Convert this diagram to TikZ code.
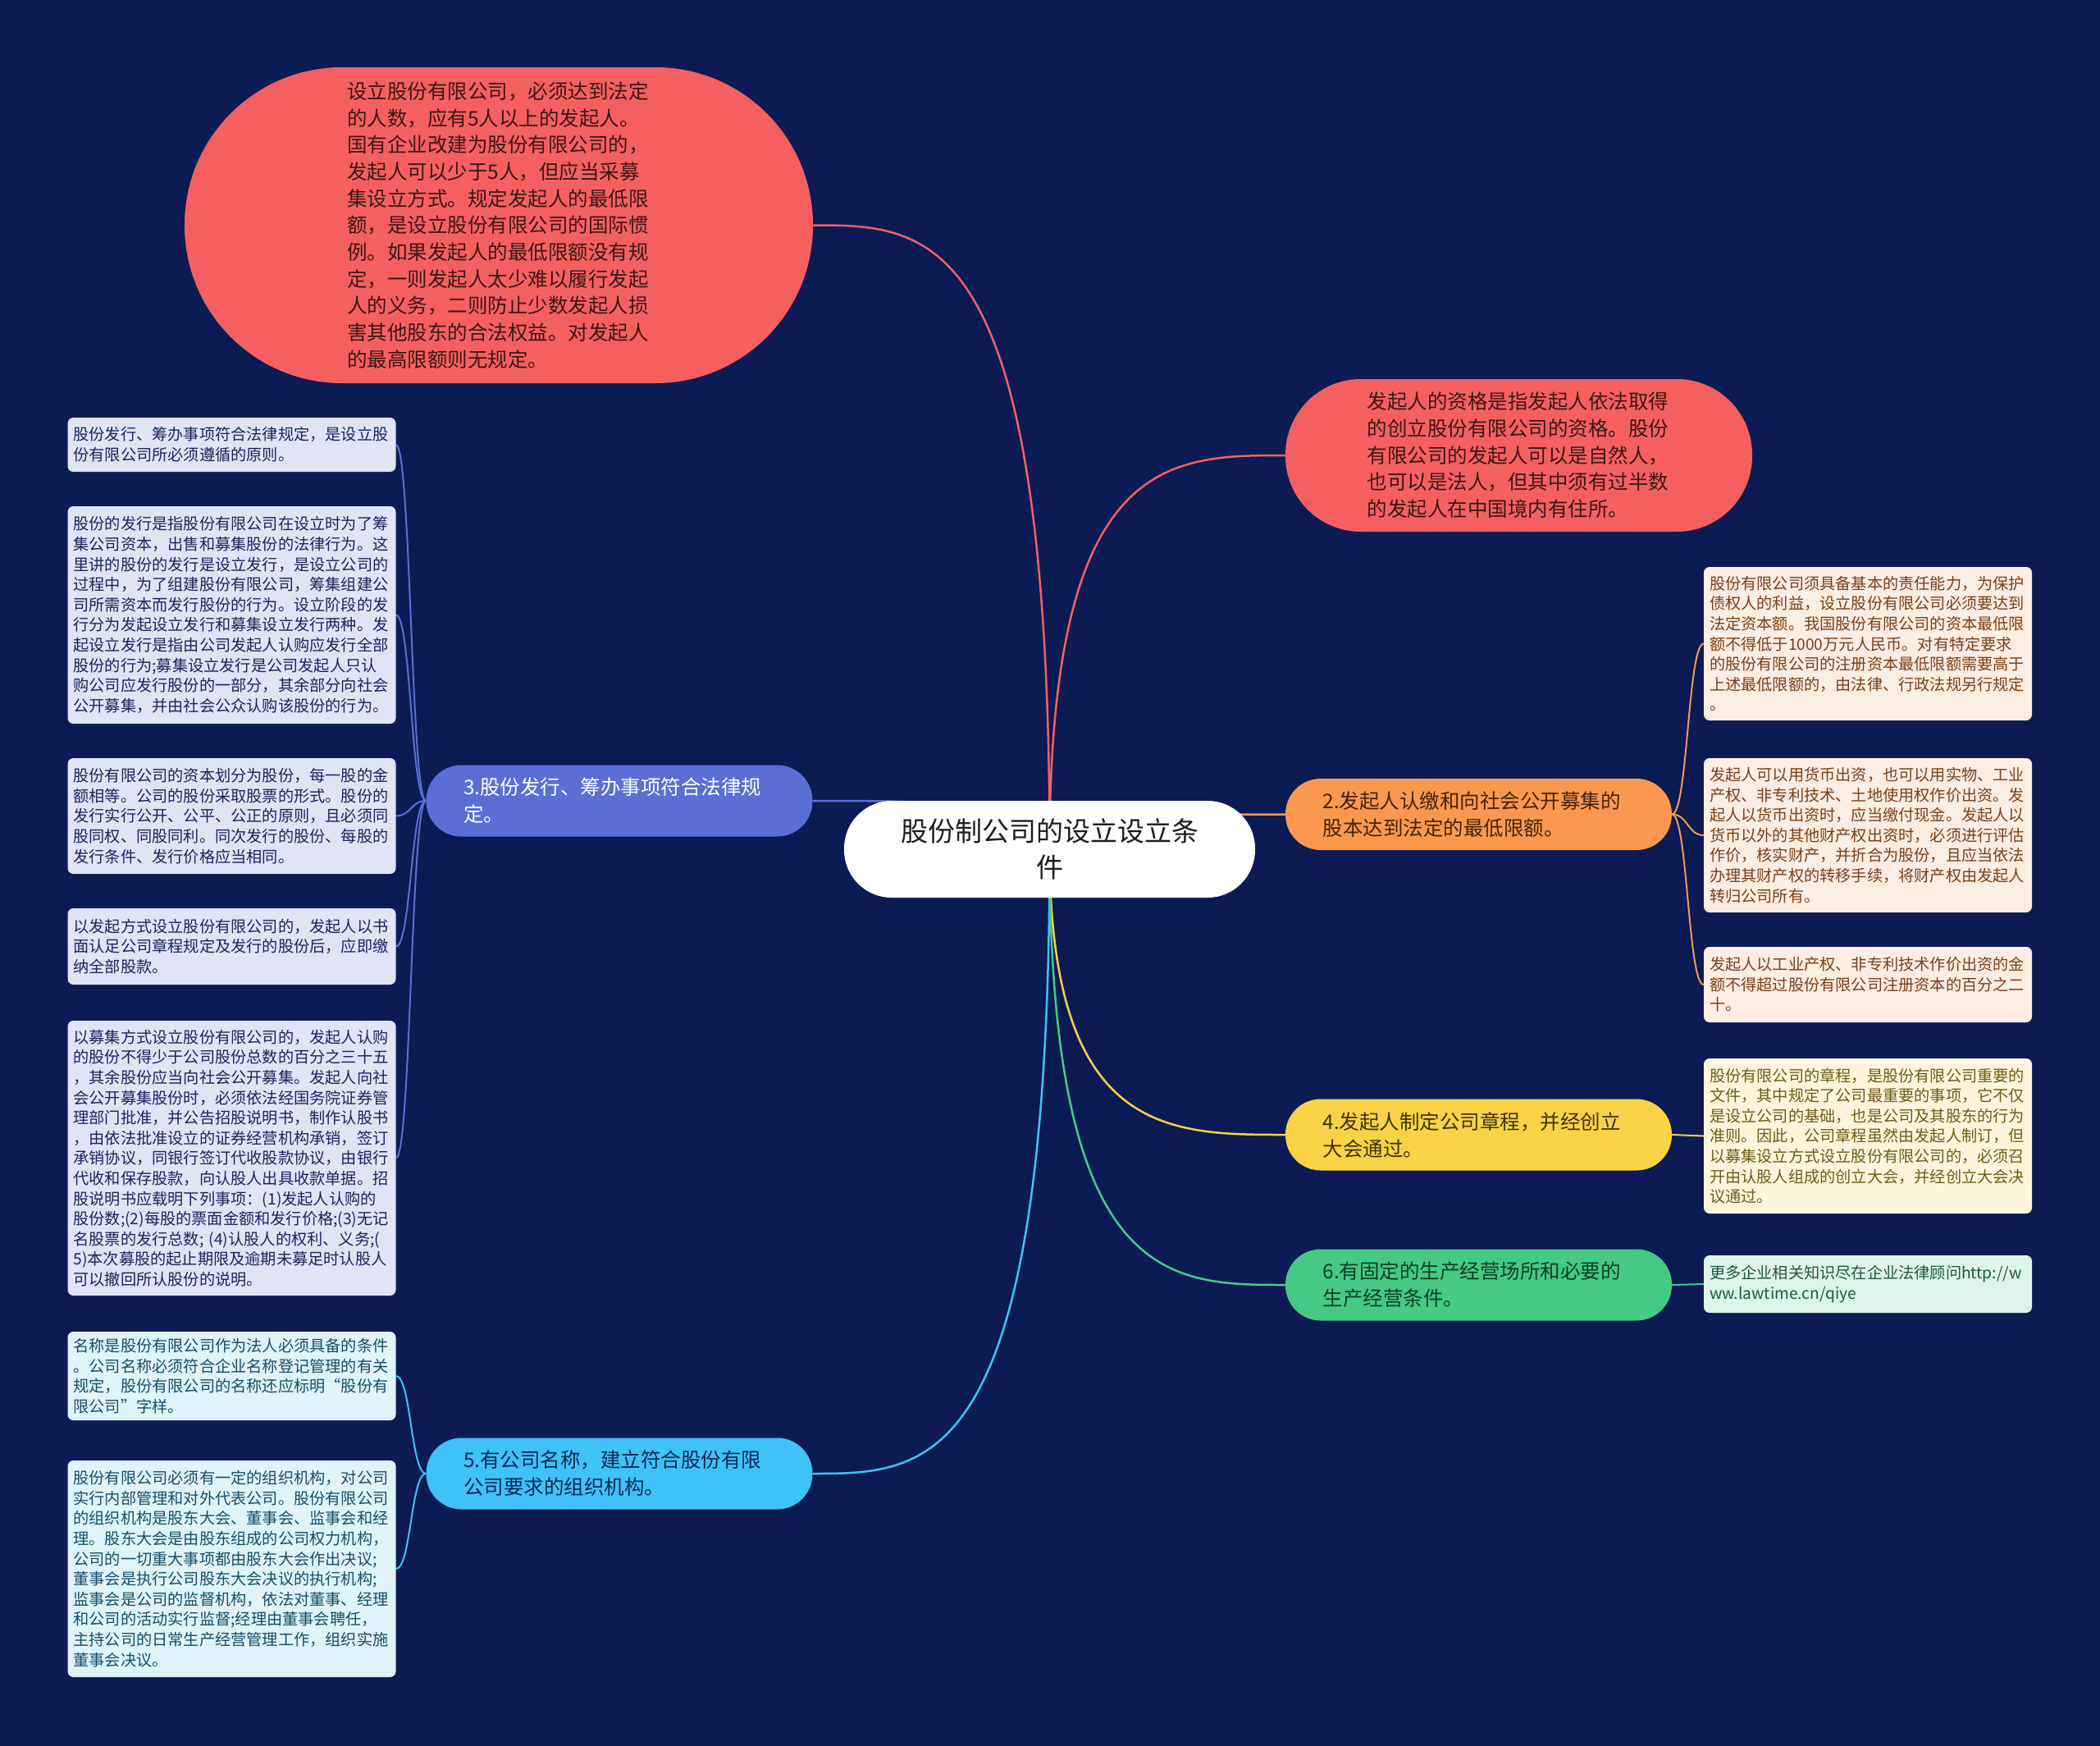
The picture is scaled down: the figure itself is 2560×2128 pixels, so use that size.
\documentclass[tikz,border=0pt]{standalone}
\usepackage{fontspec}
\newfontfamily\cjk{Noto Sans CJK SC}
\usetikzlibrary{calc}
\pgfdeclarelayer{bgl}\pgfdeclarelayer{lines}\pgfsetlayers{bgl,lines,main}
\definecolor{bgc}{RGB}{12,27,84}
\definecolor{cred}{RGB}{244,96,96}
\definecolor{corange}{RGB}{249,152,78}
\definecolor{cyellow}{RGB}{250,210,70}
\definecolor{cgreen}{RGB}{70,201,132}
\definecolor{cblue}{RGB}{91,110,214}
\definecolor{clblue}{RGB}{62,194,247}
\definecolor{tred}{RGB}{60,22,22}
\definecolor{torange}{RGB}{70,35,10}
\definecolor{tyellow}{RGB}{60,50,10}
\definecolor{tgreen}{RGB}{15,60,40}
\definecolor{tlblue}{RGB}{10,40,80}
\definecolor{fpeach}{RGB}{253,237,227}\definecolor{tpeach}{RGB}{125,62,20}
\definecolor{fyel}{RGB}{253,246,221}\definecolor{tyel}{RGB}{110,92,20}
\definecolor{fgrn}{RGB}{222,244,234}\definecolor{tgrn}{RGB}{30,90,62}
\definecolor{flav}{RGB}{224,228,246}\definecolor{tlav}{RGB}{28,36,96}
\definecolor{fcyan}{RGB}{224,243,251}\definecolor{tcyan}{RGB}{22,78,108}
\definecolor{troot}{RGB}{30,30,30}
\newcommand{\rootlink}[2]{\draw[mainlink,#1] (root.center) .. controls (root.center |- #2) and ($(root.center |- #2)!0.5!(#2)$) .. (#2);}
\newcommand{\leaflink}[3]{\draw[leaflinkst,#1] (#2) .. controls ($(#2)!0.5!(#2 -| #3)$) and ($(#3)!0.5!(#3 -| #2)$) .. (#3);}
\tikzset{
  mainlink/.style={line width=2.5pt},
  leaflinkst/.style={line width=2pt},
  leaf/.style={inner sep=0pt, inner xsep=7pt, text width=386pt, align=left, rounded corners=7pt,
    font={\cjk\fontsize{19.2}{24.6}\selectfont}},
  branch/.style={inner sep=0pt, text width=380pt, align=left, minimum width=471pt, minimum height=87pt,
    rounded corners=43pt, font={\cjk\fontsize{24.5}{33}\selectfont}},
  bigred/.style={inner sep=0pt, text width=370pt, align=left, fill=cred, text=tred,
    font={\cjk\fontsize{24.5}{32.7}\selectfont}},
  rootst/.style={inner sep=0pt, text width=370pt, align=center, fill=white, text=troot,
    minimum width=501pt, minimum height=118pt, rounded corners=58pt,
    font={\cjk\fontsize{33}{44}\selectfont}},
}
\begin{document}
\begin{tikzpicture}[x=1pt,y=-1pt]
\useasboundingbox (0,0) rectangle (2560,2128);
\begin{pgfonlayer}{bgl}
\fill[bgc] (0,0) rectangle (2560,2128);
\end{pgfonlayer}

\node[rootst] (root) at (1279.5,1035) {股份制公司的设立设立条\\件};

\node[bigred, minimum width=766pt, minimum height=385pt, rounded corners=192pt] (R1) at (608,274.5) {设立股份有限公司，必须达到法定\\
的人数，应有5人以上的发起人。\\
国有企业改建为股份有限公司的，\\
发起人可以少于5人，但应当采募\\
集设立方式。规定发起人的最低限\\
额，是设立股份有限公司的国际惯\\
例。如果发起人的最低限额没有规\\
定，一则发起人太少难以履行发起\\
人的义务，二则防止少数发起人损\\
害其他股东的合法权益。对发起人\\
的最高限额则无规定。};

\node[bigred, minimum width=569pt, minimum height=186pt, rounded corners=92pt] (R2) at (1851.5,555) {发起人的资格是指发起人依法取得\\
的创立股份有限公司的资格。股份\\
有限公司的发起人可以是自然人，\\
也可以是法人，但其中须有过半数\\
的发起人在中国境内有住所。};

\node[branch, fill=corange, text=torange] (B2) at (1802.5,992.5) {2.发起人认缴和向社会公开募集的\\股本达到法定的最低限额。};
\node[branch, fill=cblue, text=white] (B3) at (755,976) {3.股份发行、筹办事项符合法律规\\定。};
\node[branch, fill=cyellow, text=tyellow] (B4) at (1802.5,1383) {4.发起人制定公司章程，并经创立\\大会通过。};
\node[branch, fill=clblue, text=tlblue] (B5) at (755,1796) {5.有公司名称，建立符合股份有限\\公司要求的组织机构。};
\node[branch, fill=cgreen, text=tgreen] (B6) at (1802.5,1566) {6.有固定的生产经营场所和必要的\\生产经营条件。};

% leaves of 2
\node[leaf, fill=fpeach, text=tpeach, minimum height=187pt] (L2a) at (2277,784.5) {股份有限公司须具备基本的责任能力，为保护\\
债权人的利益，设立股份有限公司必须要达到\\
法定资本额。我国股份有限公司的资本最低限\\
额不得低于1000万元人民币。对有特定要求\\
的股份有限公司的注册资本最低限额需要高于\\
上述最低限额的，由法律、行政法规另行规定\\
。};
\node[leaf, fill=fpeach, text=tpeach, minimum height=188pt] (L2b) at (2277,1018) {发起人可以用货币出资，也可以用实物、工业\\
产权、非专利技术、土地使用权作价出资。发\\
起人以货币出资时，应当缴付现金。发起人以\\
货币以外的其他财产权出资时，必须进行评估\\
作价，核实财产，并折合为股份，且应当依法\\
办理其财产权的转移手续，将财产权由发起人\\
转归公司所有。};
\node[leaf, fill=fpeach, text=tpeach, minimum height=92pt] (L2c) at (2277,1200) {发起人以工业产权、非专利技术作价出资的金\\
额不得超过股份有限公司注册资本的百分之二\\
十。};

% leaf of 4
\node[leaf, fill=fyel, text=tyel, minimum height=189pt] (L4) at (2277,1384.5) {股份有限公司的章程，是股份有限公司重要的\\
文件，其中规定了公司最重要的事项，它不仅\\
是设立公司的基础，也是公司及其股东的行为\\
准则。因此，公司章程虽然由发起人制订，但\\
以募集设立方式设立股份有限公司的，必须召\\
开由认股人组成的创立大会，并经创立大会决\\
议通过。};

% leaf of 6
\node[leaf, fill=fgrn, text=tgrn, minimum height=70pt] (L6) at (2277,1565) {更多企业相关知识尽在企业法律顾问http://w\\
ww.lawtime.cn/qiye};

% leaves of 3
\node[leaf, fill=flav, text=tlav, minimum height=66pt] (L3a) at (282.5,542) {股份发行、筹办事项符合法律规定，是设立股\\
份有限公司所必须遵循的原则。};
\node[leaf, fill=flav, text=tlav, minimum height=265pt] (L3b) at (282.5,749.5) {股份的发行是指股份有限公司在设立时为了筹\\
集公司资本，出售和募集股份的法律行为。这\\
里讲的股份的发行是设立发行，是设立公司的\\
过程中，为了组建股份有限公司，筹集组建公\\
司所需资本而发行股份的行为。设立阶段的发\\
行分为发起设立发行和募集设立发行两种。发\\
起设立发行是指由公司发起人认购应发行全部\\
股份的行为;募集设立发行是公司发起人只认\\
购公司应发行股份的一部分，其余部分向社会\\
公开募集，并由社会公众认购该股份的行为。};
\node[leaf, fill=flav, text=tlav, minimum height=141pt] (L3c) at (282.5,994.5) {股份有限公司的资本划分为股份，每一股的金\\
额相等。公司的股份采取股票的形式。股份的\\
发行实行公开、公平、公正的原则，且必须同\\
股同权、同股同利。同次发行的股份、每股的\\
发行条件、发行价格应当相同。};
\node[leaf, fill=flav, text=tlav, minimum height=93pt] (L3d) at (282.5,1153.5) {以发起方式设立股份有限公司的，发起人以书\\
面认足公司章程规定及发行的股份后，应即缴\\
纳全部股款。};
\node[leaf, fill=flav, text=tlav, minimum height=335pt] (L3e) at (282.5,1411.5) {以募集方式设立股份有限公司的，发起人认购\\
的股份不得少于公司股份总数的百分之三十五\\
，其余股份应当向社会公开募集。发起人向社\\
会公开募集股份时，必须依法经国务院证券管\\
理部门批准，并公告招股说明书，制作认股书\\
，由依法批准设立的证券经营机构承销，签订\\
承销协议，同银行签订代收股款协议，由银行\\
代收和保存股款，向认股人出具收款单据。招\\
股说明书应载明下列事项：(1)发起人认购的\\
股份数;(2)每股的票面金额和发行价格;(3)无记\\
名股票的发行总数; (4)认股人的权利、义务;(\\
5)本次募股的起止期限及逾期未募足时认股人\\
可以撤回所认股份的说明。};

% leaves of 5
\node[leaf, fill=fcyan, text=tcyan, minimum height=108pt] (L5a) at (282.5,1677) {名称是股份有限公司作为法人必须具备的条件\\
。公司名称必须符合企业名称登记管理的有关\\
规定，股份有限公司的名称还应标明“股份有\\
限公司”字样。};
\node[leaf, fill=fcyan, text=tcyan, minimum height=264pt] (L5b) at (282.5,1912) {股份有限公司必须有一定的组织机构，对公司\\
实行内部管理和对外代表公司。股份有限公司\\
的组织机构是股东大会、董事会、监事会和经\\
理。股东大会是由股东组成的公司权力机构，\\
公司的一切重大事项都由股东大会作出决议;\\
董事会是执行公司股东大会决议的执行机构;\\
监事会是公司的监督机构，依法对董事、经理\\
和公司的活动实行监督;经理由董事会聘任，\\
主持公司的日常生产经营管理工作，组织实施\\
董事会决议。};

\begin{pgfonlayer}{lines}
\rootlink{cred}{R1.east}
\rootlink{cred}{R2.west}
\rootlink{corange}{B2.west}
\rootlink{cblue}{B3.east}
\rootlink{cyellow}{B4.west}
\rootlink{clblue}{B5.east}
\rootlink{cgreen}{B6.west}
\leaflink{corange}{B2.east}{L2a.west}
\leaflink{corange}{B2.east}{L2b.west}
\leaflink{corange}{B2.east}{L2c.west}
\leaflink{cyellow}{B4.east}{L4.west}
\leaflink{cgreen}{B6.east}{L6.west}
\leaflink{cblue}{B3.west}{L3a.east}
\leaflink{cblue}{B3.west}{L3b.east}
\leaflink{cblue}{B3.west}{L3c.east}
\leaflink{cblue}{B3.west}{L3d.east}
\leaflink{cblue}{B3.west}{L3e.east}
\leaflink{clblue}{B5.west}{L5a.east}
\leaflink{clblue}{B5.west}{L5b.east}
\end{pgfonlayer}
\end{tikzpicture}
\end{document}
